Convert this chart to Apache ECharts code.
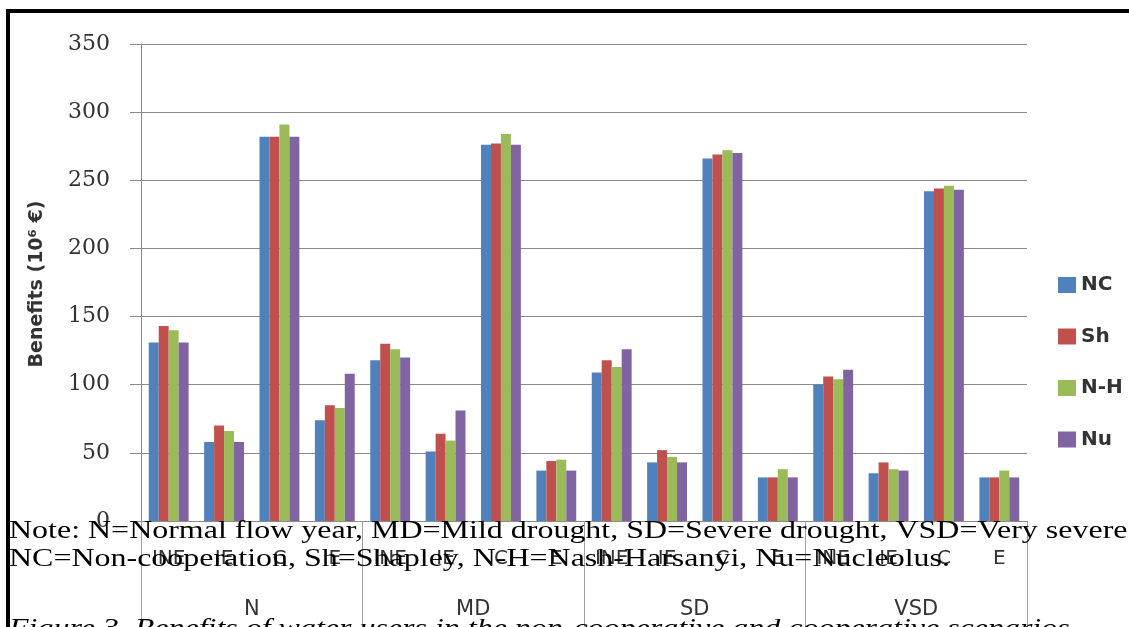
<!DOCTYPE html>
<html>
<head>
<meta charset="utf-8">
<script src="https://cdn.jsdelivr.net/npm/echarts@6/dist/echarts.min.js"></script>
<style>
  html, body { margin: 0; padding: 0; background: #fff; }
  #chart { width: 1129px; height: 627px; }
</style>
</head>
<body>
<div id="chart"></div>
<script>
// Flow-year groups and the water-allocation sub-categories within each
const groups = ['N', 'MD', 'SD', 'VSD'];
const subcats = ['INE', 'IE', 'C', 'E'];
const yTicks = [0, 50, 100, 150, 200, 250, 300, 350];

// Benefits (10^6 €) per solution concept, in order N, MD, SD, VSD × INE, IE, C, E
const NC  = [131, 58, 282, 74,  118, 51, 276, 37,  109, 43, 266, 32,  100, 35, 242, 32];
const Sh  = [143, 70, 282, 85,  130, 64, 277, 44,  118, 52, 269, 32,  106, 43, 244, 32];
const NH  = [140, 66, 291, 83,  126, 59, 284, 45,  113, 47, 272, 38,  104, 38, 246, 37];
const Nu  = [131, 58, 282, 108, 120, 81, 276, 37,  126, 43, 270, 32,  111, 37, 243, 32];

const seriesNames = ['NC', 'Sh', 'N-H', 'Nu'];
const seriesData = [NC, Sh, NH, Nu];
const colors = ['#4F81BD', '#C0504D', '#9BBB59', '#8064A2'];

const noteLine1 = 'Note: N=Normal flow year, MD=Mild drought, SD=Severe drought, VSD=Very severe drought;';
const noteLine2 = 'NC=Non-cooperation, Sh=Shapley, N-H=Nash-Harsanyi, Nu=Nucleolus.';
const caption = 'Figure 3. Benefits of water users in the non-cooperative and cooperative scenarios';

// category axis labels: sub-category repeated for each group
const categories = [];
groups.forEach(() => subcats.forEach(s => categories.push(s)));

// horizontal stretch of the serif note text
const noteFont = '25px "Liberation Serif", "Times New Roman", serif';
const measureCtx = document.createElement('canvas').getContext('2d');
measureCtx.font = noteFont;
const noteScale = 941 / measureCtx.measureText(noteLine2).width;

const gridColor = '#8a8a8a';
const chart = echarts.init(document.getElementById('chart'), null, { renderer: 'canvas' });

chart.setOption({
  backgroundColor: '#ffffff',
  animation: false,
  color: colors,
  grid: { left: 141, right: 102, top: 44, bottom: 106, containLabel: false },
  legend: {
    orient: 'vertical',
    left: 1058,
    top: 275,
    padding: 0,
    icon: 'rect',
    itemWidth: 18,
    itemHeight: 16,
    itemGap: 31.5,
    data: seriesNames,
    textStyle: {
      fontFamily: '"DejaVu Sans", sans-serif',
      fontWeight: 'bold',
      fontSize: 20,
      lineHeight: 16,
      color: '#333333',
      padding: [0, 0, 0, 0]
    }
  },
  xAxis: [
    {
      type: 'category',
      data: categories,
      position: 'bottom',
      axisLine: { show: true, lineStyle: { color: gridColor, width: 1 } },
      axisTick: { show: false },
      axisLabel: {
        interval: 0,
        margin: 28,
        fontFamily: '"DejaVu Sans", sans-serif',
        fontSize: 20,
        lineHeight: 20,
        color: '#333333'
      }
    },
    {
      type: 'category',
      data: groups,
      position: 'bottom',
      offset: 0,
      axisLine: { show: false },
      axisTick: { show: true, length: 110, interval: 0, lineStyle: { color: '#a0a0a0', width: 1 } },
      axisLabel: {
        interval: 0,
        margin: 78,
        fontFamily: '"DejaVu Sans", sans-serif',
        fontSize: 21,
        lineHeight: 21,
        color: '#333333'
      },
      splitLine: { show: false }
    }
  ],
  yAxis: {
    type: 'value',
    min: yTicks[0],
    max: yTicks[yTicks.length - 1],
    interval: 50,
    axisLine: { show: true, lineStyle: { color: gridColor, width: 1 } },
    axisTick: { show: true, inside: false, length: 11, lineStyle: { color: gridColor } },
    splitLine: { show: true, lineStyle: { color: gridColor, width: 1 } },
    axisLabel: {
      margin: 31,
      fontFamily: '"DejaVu Serif", serif',
      fontSize: 22,
      color: '#333333'
    }
  },
  series: seriesNames.map((name, i) => ({
    name: name,
    type: 'bar',
    xAxisIndex: 0,
    data: seriesData[i],
    barGap: '0%',
    barCategoryGap: '28%',
    itemStyle: { color: colors[i] }
  })),
  graphic: [
    {
      type: 'text',
      x: 37,
      y: 284,
      rotation: Math.PI / 2,
      style: {
        text: 'Benefits (10⁶ €)',
        font: 'bold 19px "DejaVu Sans", sans-serif',
        fill: '#333333',
        align: 'center',
        verticalAlign: 'middle'
      },
      z: 10
    },
    {
      type: 'text',
      x: 9,
      y: 531,
      scaleX: noteScale,
      style: { text: noteLine1, font: noteFont, fill: '#000000', align: 'left', verticalAlign: 'middle' },
      z: 20
    },
    {
      type: 'text',
      x: 9,
      y: 559,
      scaleX: noteScale,
      style: { text: noteLine2, font: noteFont, fill: '#000000', align: 'left', verticalAlign: 'middle' },
      z: 20
    },
    {
      type: 'text',
      x: 9,
      y: 629,
      scaleX: noteScale,
      style: {
        text: caption,
        font: 'italic 25px "Liberation Serif", "Times New Roman", serif',
        fill: '#000000',
        align: 'left',
        verticalAlign: 'middle'
      },
      z: 20
    },
    {
      type: 'rect',
      shape: { x: 8, y: 11, width: 1300, height: 800 },
      style: { fill: 'none', stroke: '#000000', lineWidth: 4 },
      z: 30
    }
  ]
});
</script>
</body>
</html>
